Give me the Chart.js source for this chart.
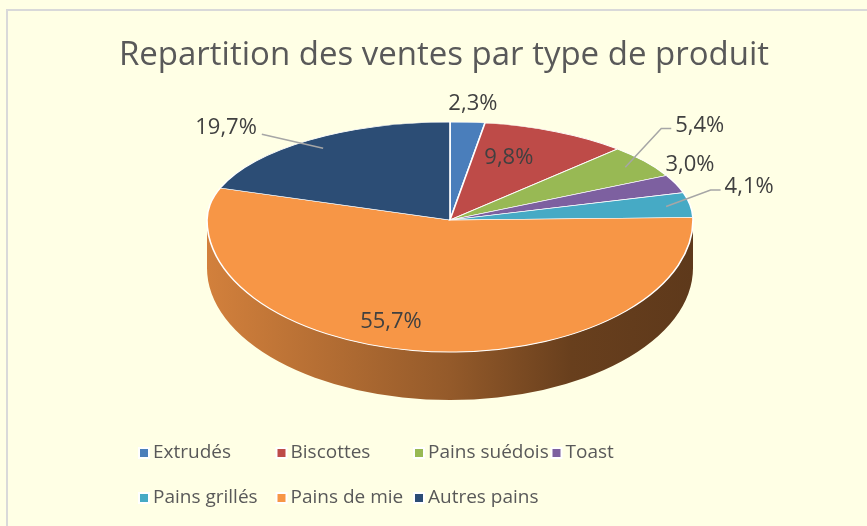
<!DOCTYPE html>
<html>
<head>
<meta charset="utf-8">
<script src="https://cdn.jsdelivr.net/npm/chart.js@4.4.0/dist/chart.umd.min.js"></script>
<style>
    body { margin: 0; background: #ffffe5; }
    canvas { display: block; }
</style>
</head>
<body>
<canvas id="ventes" width="867" height="526"></canvas>
<script>
// donnees
var categories = ['Extrudés', 'Biscottes', 'Pains suédois', 'Toast', 'Pains grillés', 'Pains de mie', 'Autres pains'];
var partVentes = [2.3, 9.8, 5.4, 3.0, 4.1, 55.7, 19.7];
var couleurs = ['#4a7ebb', '#be4b48', '#98b954', '#7d60a0', '#46aac5', '#f79646', '#2c4d75'];
var etiquettes = partVentes.map(function (v) { return v.toFixed(1).replace('.', ',') + '%'; });

// geometrie de la "3D"
var G = { cx: 450, cy: 220, rx: 243, ryTop: 98, ryBot: 132, depth: 48 };

// placement des etiquettes (fraction du rayon + decalage)
var placement = [
    { f: 1.19, dx: 2, dy: 0 },
    { f: 0.62, dx: -7, dy: -8 },
    { f: 1, dx: 55, dy: -36, ligne: true },
    { f: 1, dx: 14, dy: -19 },
    { f: 1, dx: 59, dy: -18, ligne: true },
    { f: 0.78, dx: -30, dy: 0 },
    { f: 1, dx: -83, dy: -12, ligne: true }
];

function assombrir(hex, k) {
    var r = parseInt(hex.substr(1, 2), 16), g = parseInt(hex.substr(3, 2), 16), b = parseInt(hex.substr(5, 2), 16);
    return 'rgb(' + Math.round(r * k) + ',' + Math.round(g * k) + ',' + Math.round(b * k) + ')';
}

function pointBord(theta, f) {
    var ry = Math.sin(theta) < 0 ? G.ryTop : G.ryBot;
    return { x: G.cx + G.rx * f * Math.cos(theta), y: G.cy + ry * f * Math.sin(theta) };
}

var camembert3d = {
    id: 'camembert3d',
    beforeDraw: function (chart) {
        var ctx = chart.ctx;
        ctx.save();
        ctx.fillStyle = '#ffffe5';
        ctx.fillRect(0, 0, chart.width, chart.height);
        ctx.fillStyle = '#d9d9d9';
        ctx.fillRect(6, 9, chart.width, 2);
        ctx.fillRect(6, 9, 2, chart.height);
        ctx.restore();
    },
    beforeDatasetsDraw: function (chart) {
        var ctx = chart.ctx;
        var meta = chart.getDatasetMeta(0);
        var arcs = meta.data;
        var R = arcs[0].outerRadius, ax = arcs[0].x, ay = arcs[0].y;

        // le cote visible (moitie avant)
        arcs.forEach(function (arc, i) {
            var a0 = Math.max(arc.startAngle, 0), a1 = Math.min(arc.endAngle, Math.PI);
            if (a1 <= a0) return;
            var grad = ctx.createLinearGradient(G.cx - G.rx, 0, G.cx + G.rx, 0);
            grad.addColorStop(0, assombrir(couleurs[i], 0.85));
            grad.addColorStop(0.5, assombrir(couleurs[i], 0.6));
            grad.addColorStop(0.75, assombrir(couleurs[i], 0.42));
            grad.addColorStop(1, assombrir(couleurs[i], 0.38));
            ctx.save();
            ctx.beginPath();
            ctx.ellipse(G.cx, G.cy, G.rx, G.ryBot, 0, a0, a1, false);
            ctx.ellipse(G.cx, G.cy + G.depth, G.rx, G.ryBot, 0, a1, a0, true);
            ctx.closePath();
            ctx.fillStyle = grad;
            ctx.fill();
            ctx.restore();
        });

        // le dessus, en deux moities pour la perspective
        [[0, G.cy, G.ryTop], [G.cy, chart.height, G.ryBot]].forEach(function (m) {
            ctx.save();
            ctx.beginPath();
            ctx.rect(0, m[0], chart.width, m[1] - m[0]);
            ctx.clip();
            ctx.translate(G.cx, G.cy);
            ctx.scale(G.rx / R, m[2] / R);
            ctx.translate(-ax, -ay);
            meta.controller.draw();
            ctx.restore();
        });
        return false;
    },
    afterDraw: function (chart) {
        var ctx = chart.ctx;
        var arcs = chart.getDatasetMeta(0).data;
        ctx.save();
        ctx.font = '22px "Open Sans"';
        ctx.textBaseline = 'middle';
        ctx.textAlign = 'center';
        arcs.forEach(function (arc, i) {
            var mid = (arc.startAngle + arc.endAngle) / 2;
            var p = placement[i];
            var b = pointBord(mid, p.f);
            var lx = b.x + p.dx, ly = b.y + p.dy;
            if (p.ligne) {
                var w = ctx.measureText(etiquettes[i]).width;
                var s = pointBord(mid, 0.9);
                ctx.strokeStyle = '#a6a6a6';
                ctx.lineWidth = 1.5;
                ctx.beginPath();
                ctx.moveTo(s.x, s.y);
                if (p.dx > 0) {
                    ctx.lineTo(lx - w / 2 - 14, ly + 3);
                    ctx.lineTo(lx - w / 2 - 4, ly + 3);
                } else {
                    ctx.lineTo(lx + w / 2 + 5, ly + 6);
                }
                ctx.stroke();
            }
            ctx.fillStyle = '#404040';
            ctx.fillText(etiquettes[i], lx, ly);
        });

        // legende
        ctx.font = '19px "Open Sans"';
        ctx.textAlign = 'left';
        categories.forEach(function (nom, i) {
            var x = 140 + (i % 4) * 137.5;
            var y = 453 + Math.floor(i / 4) * 45;
            ctx.fillStyle = '#ffffff';
            ctx.fillRect(x - 2, y - 6, 12, 12);
            ctx.fillStyle = couleurs[i];
            ctx.fillRect(x, y - 4, 8, 8);
            ctx.fillStyle = '#595959';
            ctx.fillText(nom, x + 13, y);
        });
        ctx.restore();
    }
};

new Chart(document.getElementById('ventes'), {
    type: 'pie',
    data: {
        labels: categories,
        datasets: [{
            data: partVentes,
            backgroundColor: couleurs,
            borderColor: '#ffffff',
            borderWidth: 1.5
        }]
    },
    options: {
        responsive: false,
        animation: false,
        layout: { padding: { left: 21 } },
        plugins: {
            legend: { display: false },
            tooltip: { enabled: false },
            title: {
                display: true,
                text: 'Repartition des ventes par type de produit',
                color: '#595959',
                font: { family: 'Open Sans', size: 33, weight: 'normal' },
                padding: { top: 36, bottom: 10 }
            }
        }
    },
    plugins: [camembert3d]
});
</script>
</body>
</html>
